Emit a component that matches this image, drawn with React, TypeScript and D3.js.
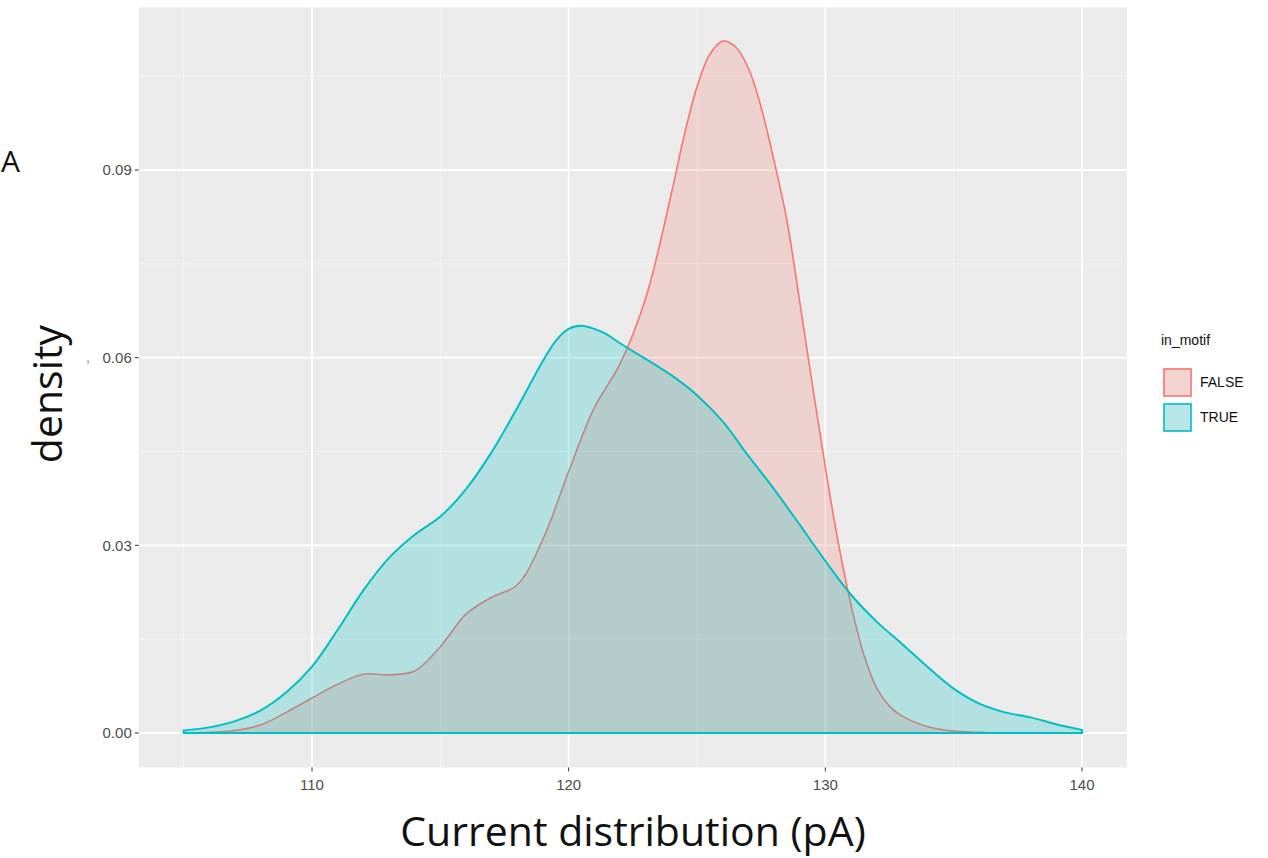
import React from "react";
import * as d3 from "d3";

// ---- data ----
const trueX = [105, 106, 107, 108, 109, 110, 111, 112, 113, 114, 115, 116, 117, 118, 119, 119.5, 120, 120.5, 121, 121.5, 122, 123, 124, 125, 126, 127, 128, 129, 130, 131, 132, 133, 134, 135, 136, 137, 138, 139, 140];
const trueY = [0.0004, 0.0009, 0.0019, 0.0036, 0.0065, 0.0106, 0.0165, 0.0228, 0.028, 0.0317, 0.0346, 0.039, 0.0449, 0.052, 0.0595, 0.0627, 0.0646, 0.0651, 0.0646, 0.0637, 0.0623, 0.0598, 0.0572, 0.054, 0.0498, 0.0443, 0.039, 0.0333, 0.0275, 0.0221, 0.0178, 0.0142, 0.0105, 0.0071, 0.0047, 0.0033, 0.0025, 0.0014, 0.0005];

const falseX = [105, 106, 107, 108, 109, 110, 111, 112, 113, 114, 115, 116, 117, 118, 119, 120, 121, 122, 123, 124, 124.5, 125, 125.5, 126, 126.5, 127, 127.5, 128, 128.5, 129, 129.5, 130, 130.5, 131, 131.5, 132, 132.5, 133, 134, 135, 136, 137, 138, 139, 140];
const falseY = [0, 0.0001, 0.0004, 0.0013, 0.0033, 0.0056, 0.0078, 0.0094, 0.0093, 0.0099, 0.0138, 0.019, 0.0217, 0.0237, 0.031, 0.0418, 0.052, 0.059, 0.0695, 0.0862, 0.0955, 0.1033, 0.1085, 0.1106, 0.1097, 0.1063, 0.1, 0.0915, 0.082, 0.069, 0.0555, 0.0425, 0.0305, 0.0205, 0.0125, 0.0072, 0.0043, 0.0027, 0.001, 0.0003, 0.0001, 0, 0, 0, 0];

const xTicks = [110, 120, 130, 140];
const xMinor = [105, 115, 125, 135];
const yTicks = [0, 0.03, 0.06, 0.09];
const yMinor = [0.015, 0.045, 0.075, 0.105];
const yTickLabels = ["0.00", "0.03", "0.06", "0.09"];

const legendTitle = "in_motif";
const groups = ["FALSE", "TRUE"];
const groupColors = ["#F8766D", "#00BFC4"];

export default function App() {
  const x = d3.scaleLinear().domain([110, 140]).range([312, 1082]);
  const y = d3.scaleLinear().domain([0, 0.09]).range([733, 170]);
  const panel = { x0: x(103.25), x1: x(141.75), y0: y(0.116), y1: y(-0.0055) };

  const area = d3
    .area<[number, number]>()
    .x((d) => x(d[0]))
    .y0(() => y(0))
    .y1((d) => y(Math.max(0, d[1])))
    .curve(d3.curveCatmullRom.alpha(0.5));

  const falsePts: [number, number][] = falseX.map((v, i) => [v, falseY[i]]);
  const truePts: [number, number][] = trueX.map((v, i) => [v, trueY[i]]);

  const tickFont = "'Liberation Sans', Arial, sans-serif";
  const titleFont = "'Open Sans', 'Noto Sans', sans-serif";

  return (
    <svg
      width={1268}
      height={858}
      style={{ position: "absolute", left: 0, top: 0, background: "#fff" }}
    >
      {/* panel label */}
      <text x={1} y={172} fontFamily={titleFont} fontSize={30} fill="#111">A</text>

      {/* panel */}
      <rect x={panel.x0} y={panel.y0} width={panel.x1 - panel.x0} height={panel.y1 - panel.y0} fill="#EBEBEB" />
      {yMinor.map((t) => (
        <line key={"ym" + t} x1={panel.x0} x2={panel.x1} y1={y(t)} y2={y(t)} stroke="#F7F7F7" strokeWidth={0.9} />
      ))}
      {xMinor.map((t) => (
        <line key={"xm" + t} x1={x(t)} x2={x(t)} y1={panel.y0} y2={panel.y1} stroke="#F7F7F7" strokeWidth={0.9} />
      ))}
      {yTicks.map((t) => (
        <line key={"yM" + t} x1={panel.x0} x2={panel.x1} y1={y(t)} y2={y(t)} stroke="#FFFFFF" strokeWidth={1.8} />
      ))}
      {xTicks.map((t) => (
        <line key={"xM" + t} x1={x(t)} x2={x(t)} y1={panel.y0} y2={panel.y1} stroke="#FFFFFF" strokeWidth={1.8} />
      ))}

      {/* densities */}
      <path d={area(falsePts) || ""} fill={groupColors[0]} fillOpacity={0.22} stroke={groupColors[0]} strokeWidth={1.6} />
      <path d={area(truePts) || ""} fill={groupColors[1]} fillOpacity={0.24} stroke={groupColors[1]} strokeWidth={2} />

      {/* y axis */}
      {yTicks.map((t, i) => (
        <g key={"yt" + t}>
          <line x1={panel.x0 - 4} x2={panel.x0} y1={y(t)} y2={y(t)} stroke="#333" strokeWidth={1} />
          <text x={panel.x0 - 7} y={y(t)} dy="0.35em" textAnchor="end" fontFamily={tickFont} fontSize={15} fill="#4D4D4D">
            {yTickLabels[i]}
          </text>
        </g>
      ))}
      <text x={86} y={362} fontFamily={tickFont} fontSize={14} fill="#888">,</text>

      {/* x axis */}
      {xTicks.map((t) => (
        <g key={"xt" + t}>
          <line x1={x(t)} x2={x(t)} y1={panel.y1} y2={panel.y1 + 4} stroke="#333" strokeWidth={1} />
          <text x={x(t)} y={panel.y1 + 23} textAnchor="middle" fontFamily={tickFont} fontSize={15} fill="#4D4D4D">
            {t}
          </text>
        </g>
      ))}

      {/* axis titles */}
      <text transform="translate(62,394) rotate(-90)" textAnchor="middle" fontFamily={titleFont} fontSize={41} fill="#111">
        density
      </text>
      <text x={633} y={846} textAnchor="middle" fontFamily={titleFont} fontSize={41} fill="#111">
        Current distribution (pA)
      </text>

      {/* legend */}
      <text x={1161} y={345} fontFamily={tickFont} fontSize={14} fill="#111">{legendTitle}</text>
      {groups.map((g, i) => (
        <g key={g} transform={`translate(1163, ${368 + i * 35})`}>
          <rect x={0} y={0} width={29} height={29} fill="#F2F2F2" />
          <rect x={1} y={1} width={27} height={27} fill={groupColors[i]} fillOpacity={0.24} stroke={groupColors[i]} strokeWidth={1.6} />
          <text x={37} y={14.5} dy="0.35em" fontFamily={tickFont} fontSize={14} fill="#111">{g}</text>
        </g>
      ))}
    </svg>
  );
}
